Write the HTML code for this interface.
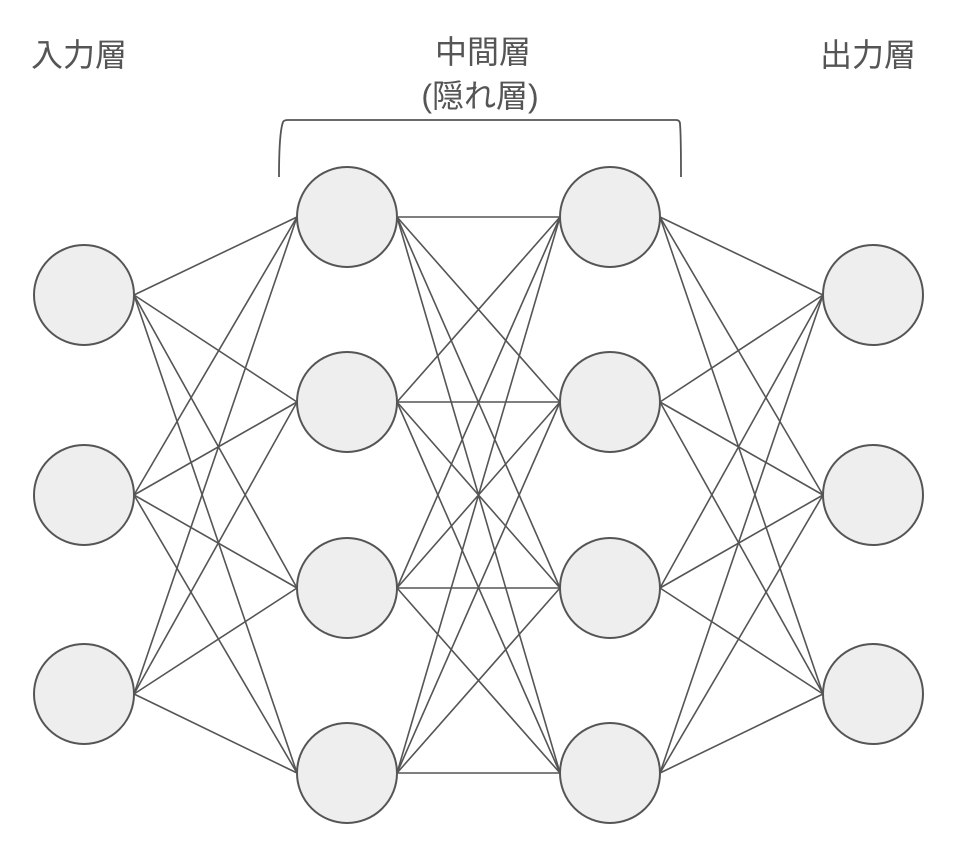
<!DOCTYPE html>
<html><head><meta charset="utf-8"><style>
body{margin:0;background:#fff}
svg text{font-family:"Liberation Sans","Noto Sans CJK JP",sans-serif;fill:#555;font-size:32px}
</style></head><body>
<svg width="976" height="844" viewBox="0 0 976 844" xmlns="http://www.w3.org/2000/svg">
<g stroke="#555" stroke-width="1.6" fill="none" id="lines"></g>
<path d="M279,177 C279,150 280,130 283,122 Q284,120 288,120 L676,120 Q680,120 680,124 C681,135 681,155 681,177" stroke="#555" stroke-width="1.8" fill="none"/>
<g id="circles" fill="#eee" stroke="#555" stroke-width="2"></g>
<text x="79" y="66" text-anchor="middle">入力層</text>
<text x="483" y="63" text-anchor="middle">中間層</text>
<text x="480" y="107" text-anchor="middle">(隠れ層)</text>
<text x="868" y="66" text-anchor="middle">出力層</text>
<script>
var L=[[84,[295,495,694]],[347,[217,402,588,773]],[610,[217,402,588,773]],[873,[295,495,694]]];
var r=50,ns="http://www.w3.org/2000/svg";
var lg=document.getElementById('lines'),cg=document.getElementById('circles');
for(var i=0;i<3;i++){var a=L[i],b=L[i+1];a[1].forEach(function(y1){b[1].forEach(function(y2){
var l=document.createElementNS(ns,'line');l.setAttribute('x1',a[0]+r);l.setAttribute('y1',y1);l.setAttribute('x2',b[0]-r);l.setAttribute('y2',y2);lg.appendChild(l);});});}
L.forEach(function(c){c[1].forEach(function(y){var e=document.createElementNS(ns,'circle');e.setAttribute('cx',c[0]);e.setAttribute('cy',y);e.setAttribute('r',r);cg.appendChild(e);});});
</script>
</svg>
</body></html>
